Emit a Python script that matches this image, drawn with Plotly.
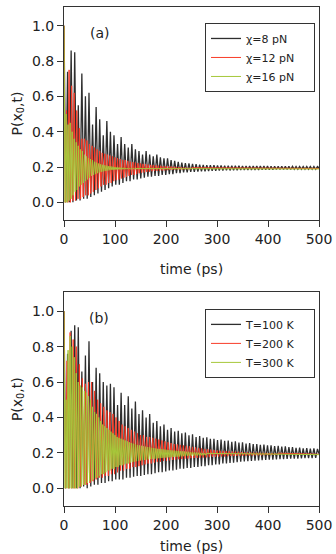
import plotly.graph_objects as go

# ---------------- data ----------------
# Each series: starts at P=1.0 at t=0, oscillates between troughs and peaks
# (one trough + one peak per oscillation period), then settles to a final value.

# Panel (a): chi = 8, 12, 16 pN
a_black_period = 7.0
a_black_peaks = [0.74, 0.86, 0.85, 0.55, 0.73, 0.60, 0.62, 0.44, 0.54, 0.47,
                 0.38, 0.46, 0.40, 0.38, 0.33, 0.37, 0.33, 0.31, 0.33, 0.30,
                 0.29, 0.27, 0.29, 0.27, 0.26, 0.27, 0.255, 0.25, 0.25, 0.24,
                 0.235, 0.23, 0.225, 0.222, 0.22, 0.218, 0.216, 0.214, 0.212, 0.211,
                 0.21, 0.21, 0.209, 0.209, 0.208, 0.208, 0.207, 0.207, 0.207, 0.206,
                 0.206, 0.206, 0.205, 0.205, 0.205, 0.205, 0.205, 0.204, 0.204, 0.204,
                 0.204, 0.204, 0.204, 0.204, 0.203, 0.203, 0.203, 0.203, 0.203, 0.203,
                 0.203]
a_black_troughs = [0.0, 0.0, 0.0, 0.01, 0.01, 0.02, 0.02, 0.03, 0.04, 0.05,
                   0.06, 0.07, 0.08, 0.09, 0.10, 0.10, 0.11, 0.12, 0.12, 0.13,
                   0.13, 0.135, 0.14, 0.145, 0.145, 0.15, 0.15, 0.155, 0.155, 0.16,
                   0.16, 0.165, 0.165, 0.17, 0.17, 0.172, 0.173, 0.174, 0.175, 0.176,
                   0.177, 0.178, 0.179, 0.18, 0.18, 0.181, 0.181, 0.182, 0.182, 0.183,
                   0.183, 0.183, 0.184, 0.184, 0.184, 0.185, 0.185, 0.185, 0.185, 0.186,
                   0.186, 0.186, 0.186, 0.186, 0.187, 0.187, 0.187, 0.187, 0.187, 0.187,
                   0.187]
a_black_final = 0.195

a_red_period = 5.0
a_red_peaks = [0.52, 0.75, 0.66, 0.62, 0.52, 0.42, 0.36, 0.36, 0.35, 0.33,
               0.32, 0.31, 0.30, 0.29, 0.28, 0.275, 0.27, 0.265, 0.26, 0.255,
               0.25, 0.245, 0.24, 0.24, 0.235, 0.23, 0.228, 0.225, 0.222, 0.22,
               0.218, 0.216, 0.214, 0.212, 0.211, 0.21, 0.208, 0.207, 0.206, 0.205,
               0.204, 0.203, 0.202, 0.201, 0.2, 0.199, 0.198, 0.197, 0.196, 0.196]
a_red_troughs = [0.0, 0.0, 0.0, 0.01, 0.01, 0.02, 0.02, 0.03, 0.04, 0.04,
                 0.05, 0.06, 0.07, 0.08, 0.09, 0.10, 0.10, 0.11, 0.11, 0.12,
                 0.125, 0.13, 0.135, 0.14, 0.145, 0.15, 0.155, 0.155, 0.16, 0.165,
                 0.168, 0.17, 0.172, 0.174, 0.176, 0.177, 0.178, 0.179, 0.18, 0.181,
                 0.182, 0.183, 0.184, 0.185, 0.185, 0.186, 0.186, 0.187, 0.187, 0.188]
a_red_final = 0.192

a_green_period = 4.0
a_green_peaks = [0.50, 0.44, 0.45, 0.40, 0.36, 0.34, 0.32, 0.30, 0.29, 0.27,
                 0.26, 0.25, 0.245, 0.24, 0.23, 0.225, 0.22, 0.216, 0.213, 0.21,
                 0.208, 0.206, 0.204, 0.202, 0.2, 0.199, 0.198, 0.197, 0.196, 0.195,
                 0.194, 0.193, 0.193, 0.192, 0.191]
a_green_troughs = [0.0, 0.0, 0.01, 0.02, 0.04, 0.06, 0.07, 0.09, 0.10, 0.11,
                   0.12, 0.13, 0.14, 0.15, 0.155, 0.16, 0.165, 0.17, 0.173, 0.176,
                   0.178, 0.18, 0.182, 0.183, 0.184, 0.185, 0.186, 0.186, 0.187, 0.187,
                   0.188, 0.188, 0.189, 0.189, 0.189]
a_green_final = 0.189

# Panel (b): T = 100, 200, 300 K
b_black_period = 7.0
b_black_peaks = [0.76, 0.89, 0.92, 0.91, 0.66, 0.75, 0.83, 0.60, 0.68, 0.65,
                 0.60, 0.58, 0.59, 0.57, 0.47, 0.54, 0.47, 0.52, 0.45, 0.49,
                 0.42, 0.44, 0.40, 0.42, 0.37, 0.38, 0.35, 0.36, 0.33, 0.34,
                 0.32, 0.325, 0.31, 0.315, 0.30, 0.305, 0.29, 0.295, 0.285, 0.288,
                 0.28, 0.28, 0.272, 0.275, 0.268, 0.27, 0.263, 0.265, 0.258, 0.26,
                 0.253, 0.255, 0.25, 0.25, 0.245, 0.247, 0.242, 0.243, 0.238, 0.24,
                 0.235, 0.237, 0.232, 0.233, 0.229, 0.23, 0.226, 0.227, 0.224, 0.225,
                 0.222]
b_black_troughs = [0.0, 0.0, 0.0, 0.0, 0.0, 0.01, 0.0, 0.01, 0.02, 0.02,
                   0.03, 0.03, 0.04, 0.04, 0.05, 0.05, 0.05, 0.06, 0.06, 0.065,
                   0.07, 0.07, 0.075, 0.08, 0.08, 0.085, 0.09, 0.09, 0.095, 0.10,
                   0.10, 0.105, 0.11, 0.11, 0.115, 0.115, 0.12, 0.12, 0.125, 0.125,
                   0.13, 0.13, 0.135, 0.135, 0.14, 0.14, 0.143, 0.145, 0.147, 0.15,
                   0.151, 0.153, 0.155, 0.156, 0.158, 0.159, 0.16, 0.161, 0.162, 0.163,
                   0.164, 0.165, 0.166, 0.167, 0.168, 0.168, 0.169, 0.17, 0.17, 0.171,
                   0.172]
b_black_final = 0.195

b_red_period = 6.0
b_red_peaks = [0.72, 0.88, 0.84, 0.80, 0.70, 0.62, 0.59, 0.60, 0.60, 0.55,
               0.50, 0.48, 0.46, 0.44, 0.43, 0.42, 0.40, 0.38, 0.36, 0.35,
               0.34, 0.33, 0.32, 0.31, 0.30, 0.30, 0.29, 0.29, 0.285, 0.28,
               0.275, 0.27, 0.265, 0.26, 0.255, 0.25, 0.248, 0.245, 0.242, 0.24,
               0.237, 0.234, 0.231, 0.228, 0.225, 0.222, 0.22, 0.218, 0.216, 0.214,
               0.212, 0.211, 0.21, 0.209, 0.208, 0.207, 0.206, 0.205, 0.204, 0.203,
               0.202, 0.202, 0.201, 0.201, 0.2, 0.2, 0.199, 0.199, 0.198, 0.198]
b_red_troughs = [0.0, 0.0, 0.0, 0.0, 0.0, 0.01, 0.02, 0.02, 0.03, 0.04,
                 0.05, 0.06, 0.06, 0.07, 0.07, 0.08, 0.08, 0.09, 0.10, 0.10,
                 0.11, 0.11, 0.12, 0.12, 0.125, 0.13, 0.135, 0.14, 0.14, 0.145,
                 0.15, 0.15, 0.155, 0.155, 0.158, 0.16, 0.162, 0.164, 0.165, 0.167,
                 0.168, 0.17, 0.171, 0.172, 0.173, 0.174, 0.175, 0.176, 0.177, 0.178,
                 0.179, 0.18, 0.18, 0.181, 0.182, 0.182, 0.183, 0.183, 0.184, 0.184,
                 0.185, 0.185, 0.186, 0.186, 0.186, 0.187, 0.187, 0.187, 0.188, 0.188]
b_red_final = 0.192

b_green_period = 4.0
b_green_peaks = [0.50, 0.78, 0.86, 0.80, 0.74, 0.65, 0.60, 0.58, 0.57, 0.55,
                 0.54, 0.52, 0.50, 0.46, 0.43, 0.42, 0.40, 0.38, 0.36, 0.35,
                 0.34, 0.33, 0.32, 0.31, 0.30, 0.29, 0.285, 0.28, 0.275, 0.27,
                 0.265, 0.26, 0.256, 0.252, 0.248, 0.245, 0.242, 0.24, 0.237, 0.235,
                 0.233, 0.231, 0.229, 0.227, 0.225, 0.223, 0.222, 0.22, 0.219, 0.218,
                 0.216, 0.215, 0.214, 0.213, 0.212, 0.211, 0.21, 0.209, 0.208, 0.207,
                 0.206, 0.205, 0.204, 0.203, 0.202, 0.201, 0.2, 0.199, 0.198, 0.197]
b_green_troughs = [0.0, 0.0, 0.0, 0.0, 0.0, 0.0, 0.0, 0.01, 0.01, 0.02,
                   0.02, 0.03, 0.04, 0.04, 0.05, 0.06, 0.06, 0.07, 0.08, 0.08,
                   0.09, 0.10, 0.10, 0.11, 0.11, 0.12, 0.12, 0.13, 0.13, 0.135,
                   0.14, 0.14, 0.145, 0.148, 0.15, 0.153, 0.155, 0.157, 0.159, 0.16,
                   0.162, 0.164, 0.165, 0.166, 0.167, 0.168, 0.17, 0.171, 0.172, 0.173,
                   0.174, 0.175, 0.176, 0.177, 0.178, 0.178, 0.179, 0.18, 0.181, 0.182,
                   0.182, 0.183, 0.183, 0.184, 0.185, 0.185, 0.186, 0.186, 0.187, 0.187]
b_green_final = 0.19

P_start = 1.0
t_end = 500.0

names_a = ["\u03c7=8 pN", "\u03c7=12 pN", "\u03c7=16 pN"]
names_b = ["T=100 K", "T=200 K", "T=300 K"]
colors = ["#2e2e2e", "#f83c28", "#a6c83a"]
widths = [1.3, 1.0, 1.0]

x_ticks = [0, 100, 200, 300, 400, 500]
y_ticks = [0.0, 0.2, 0.4, 0.6, 0.8, 1.0]

PAD = "\u00a0" * 4


def build(period, peaks, troughs, final):
    t, y = [0.0], [P_start]
    for k in range(min(len(peaks), len(troughs))):
        t += [period * (k + 0.5), period * (k + 1)]
        y += [troughs[k], peaks[k]]
    if t[-1] < t_end:
        t.append(t_end)
        y.append(final)
    return t, y


panel_a = [(a_black_period, a_black_peaks, a_black_troughs, a_black_final),
           (a_red_period, a_red_peaks, a_red_troughs, a_red_final),
           (a_green_period, a_green_peaks, a_green_troughs, a_green_final)]
panel_b = [(b_black_period, b_black_peaks, b_black_troughs, b_black_final),
           (b_red_period, b_red_peaks, b_red_troughs, b_red_final),
           (b_green_period, b_green_peaks, b_green_troughs, b_green_final)]

fig = go.Figure()
for i, spec in enumerate(panel_a):
    t, y = build(*spec)
    fig.add_trace(go.Scatter(x=t, y=y, mode="lines", name=names_a[i] + PAD,
                             line=dict(color=colors[i], width=widths[i]),
                             xaxis="x", yaxis="y", legend="legend"))
for i, spec in enumerate(panel_b):
    t, y = build(*spec)
    fig.add_trace(go.Scatter(x=t, y=y, mode="lines", name=names_b[i] + PAD,
                             line=dict(color=colors[i], width=widths[i]),
                             xaxis="x2", yaxis="y2", legend="legend2"))

FONT = "DejaVu Sans"
TXT = "#222222"
axis_common = dict(showline=True, linecolor="#333333", linewidth=1, mirror=True,
                   ticks="outside", ticklen=6, tickcolor="#333333", tickwidth=1,
                   showgrid=False, zeroline=False, automargin=False,
                   tickfont=dict(family=FONT, size=14, color=TXT))

xa = dict(axis_common, range=[0, 500], tickvals=x_ticks,
          title=dict(text="time (ps)", font=dict(family=FONT, size=14, color=TXT), standoff=18))
ya = dict(axis_common, range=[-0.1, 1.106], tickvals=y_ticks, tickformat=".1f",
          title=dict(text="P(x<sub>0</sub>,t)", font=dict(family=FONT, size=14, color=TXT), standoff=6))

legend_common = dict(bgcolor="white", bordercolor="#333333", borderwidth=1,
                     font=dict(family=FONT, size=11, color=TXT),
                     xanchor="left", yanchor="top", tracegroupgap=0)

fig.update_layout(
    width=336, height=554,
    margin=dict(l=64, r=17, t=7, b=48),
    paper_bgcolor="white", plot_bgcolor="white",
    xaxis=dict(xa, domain=[0, 1], anchor="y"),
    yaxis=dict(ya, domain=[0.5731, 1.0], anchor="x"),
    xaxis2=dict(xa, domain=[0, 1], anchor="y2"),
    yaxis2=dict(ya, domain=[0.0, 0.428], anchor="x2"),
    legend=dict(legend_common, x=0.553, y=0.968),
    legend2=dict(legend_common, x=0.553, y=0.395),
    annotations=[
        dict(text="(a)", x=70, y=0.96, xref="x", yref="y", showarrow=False,
             font=dict(family=FONT, size=14, color=TXT)),
        dict(text="(b)", x=68, y=0.96, xref="x2", yref="y2", showarrow=False,
             font=dict(family=FONT, size=14, color=TXT)),
    ],
)

fig.write_html("out.html")
